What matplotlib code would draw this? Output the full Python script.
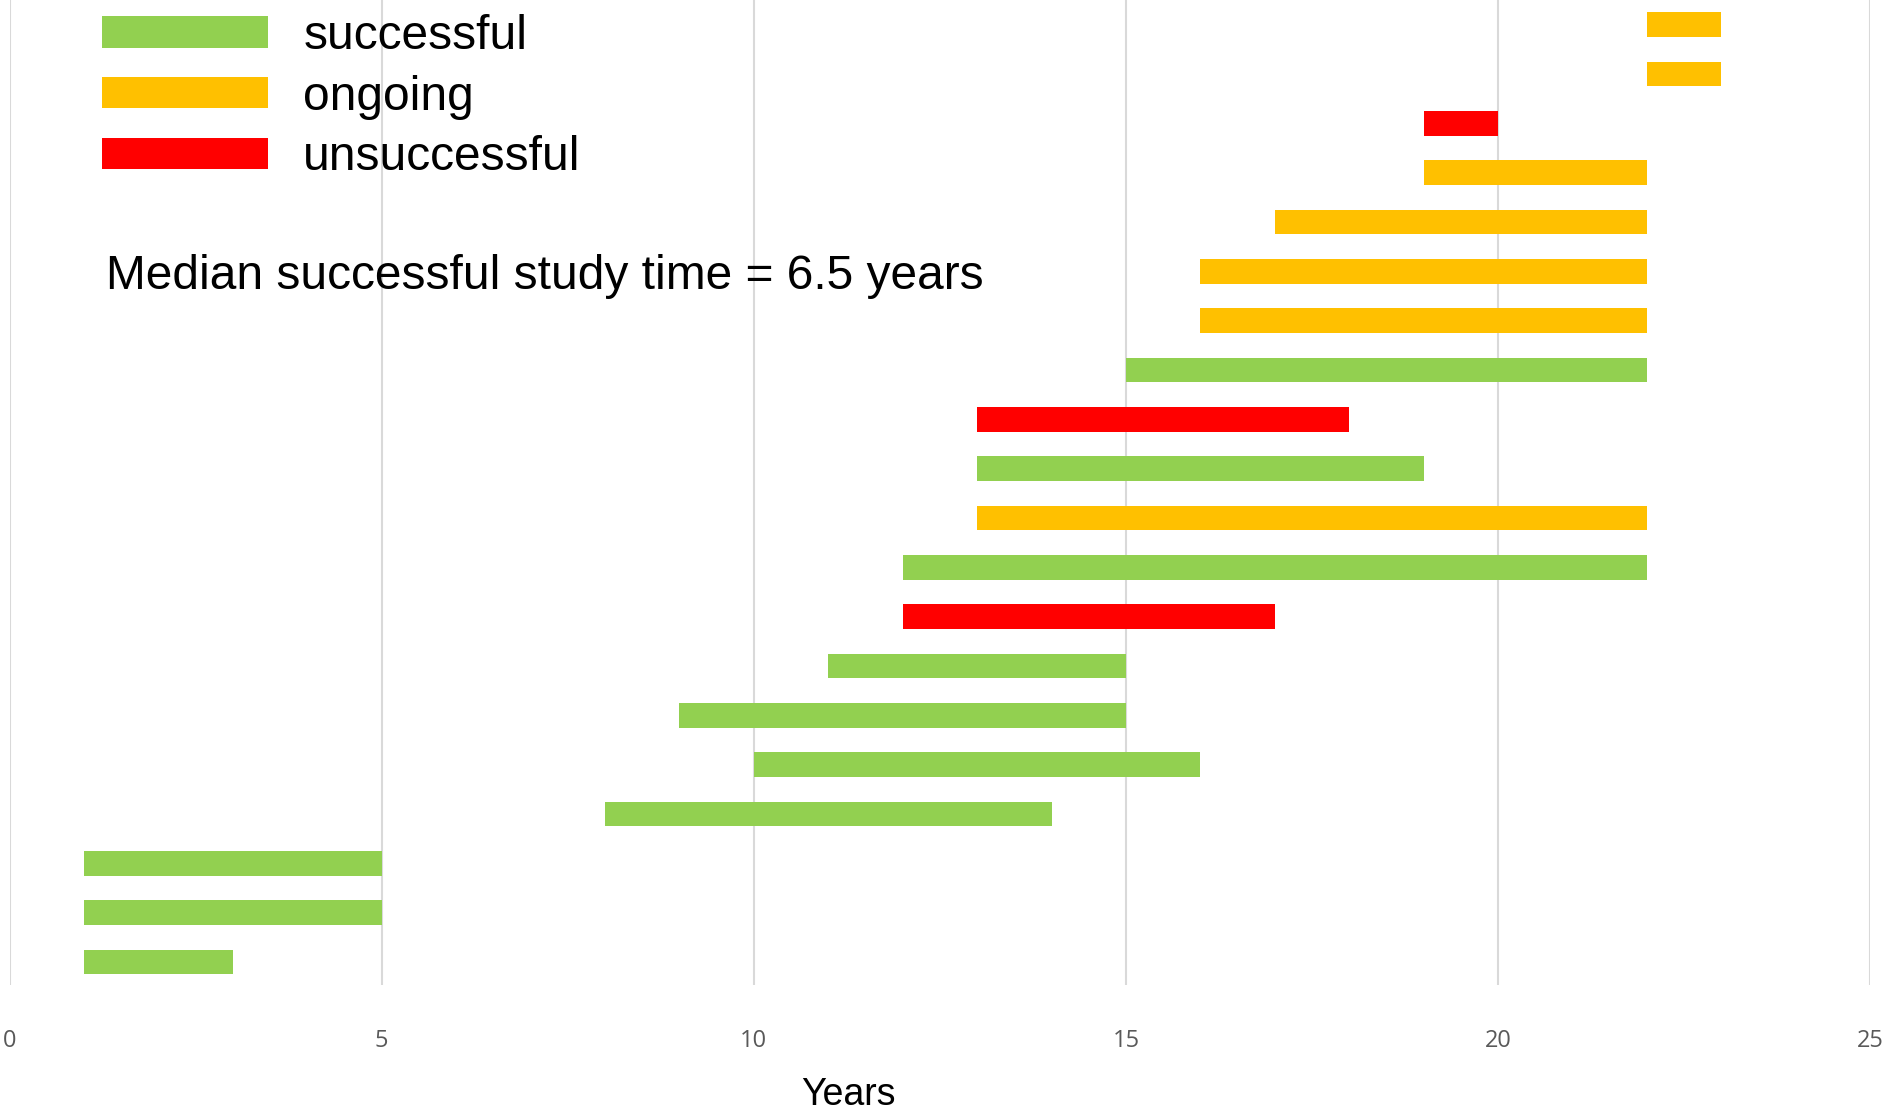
import matplotlib
matplotlib.use("Agg")
import matplotlib.pyplot as plt
from matplotlib.patches import Patch

# Data (bottom row first)
start_year = [1, 1, 1, 8, 10, 9, 11, 12, 12, 13, 13, 13, 15, 16, 16, 17, 19, 19, 22, 22]
end_year   = [3, 5, 5, 14, 16, 15, 15, 17, 22, 22, 19, 18, 22, 22, 22, 22, 22, 20, 23, 23]
status = ["successful", "successful", "successful", "successful", "successful",
          "successful", "successful", "unsuccessful", "successful", "ongoing",
          "successful", "unsuccessful", "successful", "ongoing", "ongoing",
          "ongoing", "ongoing", "unsuccessful", "ongoing", "ongoing"]
categories = ["successful", "ongoing", "unsuccessful"]
x_ticks = [0, 5, 10, 15, 20, 25]
annotation = "Median successful study time = 6.5 years"

colors = {"successful": "#92D050", "ongoing": "#FFC000", "unsuccessful": "#FF0000"}

fig = plt.figure(figsize=(18.89, 11.10), dpi=100)
ax = fig.add_axes([0.0051, 0.1126, 0.9849, 0.8874])

rows = list(range(len(start_year)))
widths = [e - s for s, e in zip(start_year, end_year)]
ax.barh(rows, widths, left=start_year, height=0.5,
        color=[colors[s] for s in status], zorder=3)

ax.set_xlim(0, 25)
ax.set_ylim(-0.47, 19.5)
ax.set_xticks(x_ticks)
ax.set_xticklabels([str(t) for t in x_ticks], family="Open Sans", fontsize=17, color="#595959")
ax.set_yticks([])
ax.tick_params(axis="x", length=0, pad=32)
ax.grid(axis="x", color="#d9d9d9", linewidth=1.5, zorder=0)
for sp in ax.spines.values():
    sp.set_visible(False)

ax.set_xlabel("Years", family="Liberation Sans", fontsize=27)
ax.xaxis.set_label_coords(0.451, -0.093)

handles = [Patch(facecolor=colors[c], edgecolor="none") for c in categories]
leg = ax.legend(handles, categories, loc="upper left", bbox_to_anchor=(0.0497, 0.986),
                frameon=False, prop={"family": "Liberation Sans", "size": 34.5},
                handlelength=3.47, handleheight=0.63, handletextpad=0.73,
                labelspacing=0.33, borderaxespad=0, borderpad=0)

fig.text(0.056, 0.7505, annotation, family="Liberation Sans", fontsize=34.5,
         va="center", ha="left")

fig.savefig("out.png", dpi=100, facecolor="white")
